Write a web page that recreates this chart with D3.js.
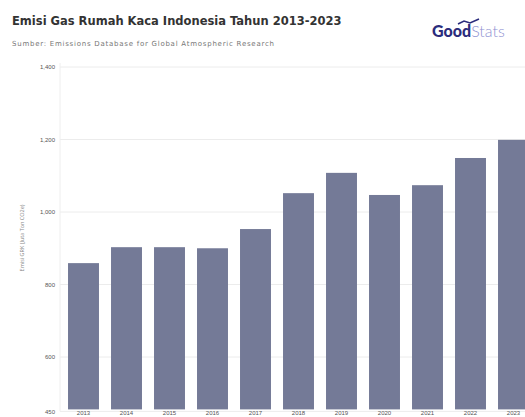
<!DOCTYPE html>
<html>
<head>
<meta charset="utf-8">
<script src="https://cdn.jsdelivr.net/npm/d3@7"></script>
<style>
  body { margin: 0; background: #fff; }
  svg { display: block; font-family: "Open Sans", "DejaVu Sans", sans-serif; }
</style>
</head>
<body>
<svg id="chart" width="525" height="417"></svg>
<script>
// data
const YEARS = ["2013", "2014", "2015", "2016", "2017", "2018", "2019", "2020", "2021", "2022", "2023"];
const EMISSIONS = [859, 903, 903, 900, 953, 1052, 1108, 1047, 1074, 1149, 1199];
const Y_TICKS = [450, 600, 800, 1000, 1200, 1400];

const svg = d3.select("#chart");

// plot area (the right edge runs past the window, as in the reference)
const config = { left: 62, right: 535, top: 67, bottom: 411.4 };

// year scale (x-axis)
const xScale = d3
  .scaleBand()
  .domain(YEARS)
  .range([config.left, config.right])
  .paddingInner(0.28)
  .paddingOuter(0.14);

// emission scale (y-axis)
const yScale = d3
  .scaleLinear()
  .domain([450, 1400])
  .range([config.bottom, config.top]);

// grid lines
svg
  .append("g")
  .attr("class", "grid")
  .selectAll("line")
  .data(Y_TICKS)
  .join("line")
  .attr("x1", 60)
  .attr("x2", 525)
  .attr("y1", (d) => yScale(d))
  .attr("y2", (d) => yScale(d))
  .attr("stroke", "#ececec")
  .attr("stroke-width", 1);

// vertical axis line
svg
  .append("line")
  .attr("x1", 60)
  .attr("x2", 60)
  .attr("y1", yScale(1400) - 4)
  .attr("y2", config.bottom)
  .attr("stroke", "#eeeeee");

// bars
svg
  .append("g")
  .selectAll("rect")
  .data(YEARS)
  .join("rect")
  .attr("x", (d) => xScale(d))
  .attr("width", xScale.bandwidth())
  .attr("y", (d, i) => yScale(EMISSIONS[i]))
  .attr("height", (d, i) => config.bottom - 2 - yScale(EMISSIONS[i]))
  .attr("fill", "#747a97");

// y axis labels
const yAxis = svg
  .append("g")
  .attr("class", "axis axis-y")
  .attr("transform", `translate(${config.left - 2}, 0)`)
  .call(d3.axisLeft(yScale).tickValues(Y_TICKS).tickSize(0).tickPadding(5));
yAxis.select(".domain").remove();
yAxis.selectAll("text").attr("font-size", 6).attr("fill", "#555");

// x axis labels
const xAxis = svg
  .append("g")
  .attr("class", "axis axis-x")
  .attr("transform", `translate(0, ${config.bottom - 2})`)
  .call(d3.axisBottom(xScale).tickSize(0).tickPadding(1));
xAxis.select(".domain").remove();
xAxis.selectAll("text").attr("font-size", 6).attr("fill", "#555");

// y-axis title
svg
  .append("text")
  .attr("text-anchor", "middle")
  .attr("transform", "translate(24, 238) rotate(-90)")
  .attr("font-size", 5.5)
  .attr("fill", "#888")
  .text("Emisi GRK (Juta Ton CO2e)");

// title and source
svg
  .append("text")
  .attr("x", 12)
  .attr("y", 25)
  .attr("font-family", "DejaVu Sans, sans-serif")
  .attr("font-size", 11.5)
  .attr("font-weight", "bold")
  .attr("fill", "#333")
  .text("Emisi Gas Rumah Kaca Indonesia Tahun 2013-2023");

svg
  .append("text")
  .attr("x", 12)
  .attr("y", 46)
  .attr("font-family", "DejaVu Sans, sans-serif")
  .attr("font-size", 7)
  .attr("letter-spacing", 0.75)
  .attr("fill", "#777")
  .text("Sumber: Emissions Database for Global Atmospheric Research");

// logo
const logo = svg.append("g").attr("transform", "translate(432, 37)");
logo
  .append("text")
  .attr("font-size", 16)
  .attr("font-family", "Lato, sans-serif")
  .selectAll("tspan")
  .data([
    { t: "Good", w: "900", c: "#2b2c7c" },
    { t: "Stats", w: "300", c: "#8f92d2" },
  ])
  .join("tspan")
  .attr("font-weight", (d) => d.w)
  .attr("fill", (d) => d.c)
  .text((d) => d.t);
logo
  .append("path")
  .attr("d", "M26,-13 L32,-16 L38,-14 L47,-18")
  .attr("fill", "none")
  .attr("stroke", "#2b2c7c")
  .attr("stroke-width", 1.6);
</script>
</body>
</html>
